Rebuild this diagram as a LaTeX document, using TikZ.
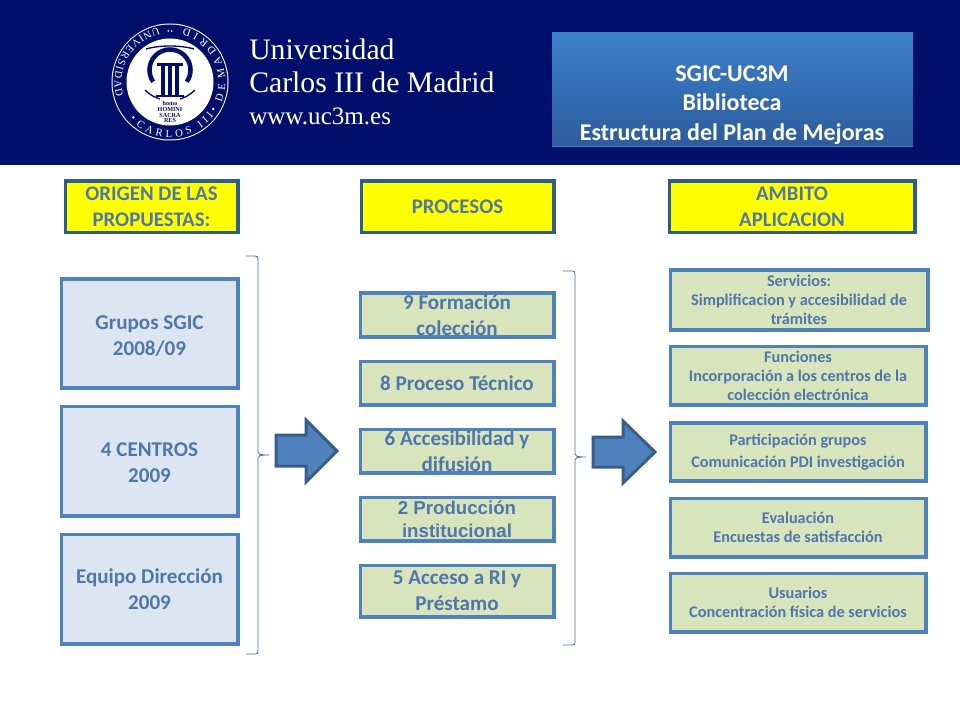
\documentclass[tikz,border=0pt]{standalone}
\usepackage{fontspec}
\setmainfont{Carlito}
\newfontfamily\logofont{Liberation Serif}
\newfontfamily\arialfont{Liberation Sans}
\usetikzlibrary{decorations.text}
\definecolor{navy}{HTML}{000F6B}
\definecolor{txtblue}{HTML}{4F77AB}
\definecolor{edgeblue}{HTML}{4F81BD}
\definecolor{darkedge}{HTML}{2F5C8F}
\definecolor{lightblue}{HTML}{DCE6F2}
\definecolor{lightgreen}{HTML}{D7E4BC}
\definecolor{arrowfill}{HTML}{4F81BD}
\definecolor{arrowedge}{HTML}{385D8A}
\definecolor{titletop}{HTML}{3D7FCB}
\definecolor{titlebot}{HTML}{2C5C9C}
\definecolor{headyellow}{HTML}{FFFF00}
\newcommand{\fs}[2]{\fontsize{#1}{#2}\selectfont}
\newcommand{\dn}{\rule{0pt}{13.5pt}}
\newcommand{\ringtext}[3]{\path[decorate,decoration={text along path,text align={fit to path},
    text={|\color{white}\logofont\fs{8}{9}|#3}}]
    (#1:55.5) arc[start angle=#1,end angle=#2,radius=55.5];}
\tikzset{
  box/.style={draw,rectangle,align=center,inner sep=0pt,font=\bfseries,text=txtblue,line width=2.8pt},
  ybox/.style={box,fill=headyellow,draw=darkedge,font=\bfseries\fs{15.6}{19.5}},
  lbox/.style={box,fill=lightblue,draw=edgeblue,font=\bfseries\fs{15.8}{19.5}},
  gbox/.style={box,fill=lightgreen,draw=edgeblue,font=\bfseries\fs{15.8}{19.5}},
  rbox/.style={box,fill=lightgreen,draw=edgeblue,font=\bfseries\fs{12.2}{14.2}},
  size/.style 2 args={minimum width=#1*.75pt-2.8pt,minimum height=#2*.75pt-2.8pt},
  brace/.style={draw=edgeblue!85!black,line width=.6pt},
  bigarrow/.style={fill=arrowfill,draw=arrowedge,line width=2.25pt,line join=miter}
}
\begin{document}
\begin{tikzpicture}[x=.75pt,y=-.75pt]
\useasboundingbox (0,0) rectangle (960,720);
\fill[white] (0,0) rectangle (960,720);
\fill[navy] (0,0) rectangle (960,165);
% logo
\begin{scope}[shift={(170,82)},x=.75pt,y=.75pt]
  \fill[white] (0,0) circle[radius=58.5];
  \fill[navy] (0,0) circle[radius=57.5];
  \fill[white] (0,0) circle[radius=43.5];
  \ringtext{232}{322}{CARLOS III}
  \ringtext{338}{358}{DE}
  \ringtext{5}{75}{MADRID}
  \ringtext{102}{196}{UNIVERSIDAD}
  \fill[white] (224:51) circle[radius=1.3];
  \fill[white] (328:51) circle[radius=1.3];
  \fill[white] (88:51) circle[radius=.9];
  \fill[white] (92:51) circle[radius=.9];
  \draw[navy,line width=3.4pt] (215:20.5)++(0,12) arc[start angle=215,end angle=-35,radius=20.5];
  \draw[navy,line width=1pt] (-24,33) .. controls (-10,37) and (10,37) .. (24,33);
  \draw[navy,line width=1pt] (-25,-8) .. controls (-20,-13) and (-16,-15) .. (-10,-17);
  \draw[navy,line width=1pt] (25,-8) .. controls (20,-13) and (16,-15) .. (10,-17);
  \fill[navy] (-13,18.5) rectangle (13,16);
  \foreach \cx in {-7,0,7} \fill[navy] (\cx-1.7,16) rectangle (\cx+1.7,-13);
  \fill[navy] (-14,-13) rectangle (14,-15);
  \node[text=navy,align=center,inner sep=0pt,font=\logofont\bfseries\fs{4.6}{4.4}] (motto) at (0,-30) {homo\\HOMINI\\SACRA\\RES};
\end{scope}
\node[anchor=base west,text=white,inner sep=0pt,font=\logofont\fs{22.3}{24}] (uni) at (249,60) {Universidad};
\node[anchor=base west,text=white,inner sep=0pt,font=\logofont\fs{22.3}{24}] (carlos) at (249,93) {Carlos III de Madrid};
\node[anchor=base west,text=white,inner sep=0pt,font=\logofont\fs{18.8}{19}] (web) at (249,125) {www.uc3m.es};
% title box
\shade[top color=titletop,bottom color=titlebot] (552,32.5) rectangle (913,146);
\draw[edgeblue,line width=.8pt] (552,146.5) -- (913,146.5);
\node[text=white,align=center,inner sep=0pt,font=\bfseries\fs{18}{22.2}] (title) at (732,105) {SGIC-UC3M\\Biblioteca\\Estructura del Plan de Mejoras};
% headers
\node[ybox,size={176}{55}] (h1) at (151.5,207) {ORIGEN DE LAS\\PROPUESTAS:};
\node[ybox,size={196}{55}] (h2) at (457.5,207) {PROCESOS};
\node[ybox,size={249}{55}] (h3) at (792,207) {AMBITO\\APLICACION};
% left
\node[lbox,size={180}{112}] (l1) at (149.5,333.5) {\dn Grupos SGIC\\2008/09};
\node[lbox,size={180}{113}] (l2) at (149.5,461) {\dn 4 CENTROS\\2009};
\node[lbox,size={180}{113}] (l3) at (149.5,589) {Equipo Dirección\\2009};
% middle
\node[gbox,size={197}{47}] (m1) at (457,315) {9 Formación\\colección};
\node[gbox,size={197}{47}] (m2) at (457,383) {8 Proceso Técnico};
\node[gbox,size={197}{47}] (m3) at (457,451) {6 Accesibilidad y\\difusión};
\node[gbox,size={197}{47},font=\arialfont\bfseries\fs{14}{17}] (m4) at (457,519) {2 Producción\\institucional};
\node[gbox,size={197}{55}] (m5) at (457,591) {5 Acceso a RI y\\Préstamo};
% right
\node[rbox,size={261}{63}] (r1) at (799,300) {Servicios:\\Simplificacion y accesibilidad de\\trámites};
\node[rbox,size={259}{62}] (r2) at (798,375.5) {Funciones\\Incorporación a los centros de la\\colección electrónica};
\node[rbox,size={259}{62},font=\bfseries\fs{12.2}{16}] (r3) at (798,452) {Participación grupos\\Comunicación PDI investigación};
\node[rbox,size={259}{62}] (r4) at (798,527.5) {Evaluación\\Encuestas de satisfacción};
\node[rbox,size={259}{62}] (r5) at (798,602.5) {Usuarios\\Concentración física de servicios};
% braces
\draw[brace] (246,256) -- (255,256) .. controls (257.5,256) and (258,257) .. (258,259) -- (258,452) .. controls (258,454) and (259,455) .. (269,455) .. controls (259,455) and (258,456) .. (258,458) -- (258,651) .. controls (258,653) and (257.5,654) .. (255,654) -- (246,654);
\draw[brace] (563,271) -- (572,271) .. controls (574.5,271) and (575,272) .. (575,274) -- (575,454) .. controls (575,456) and (576,457) .. (586,457) .. controls (576,457) and (575,458) .. (575,460) -- (575,642) .. controls (575,644) and (574.5,645) .. (572,645) -- (563,645);
% arrows
\path[bigarrow] (276,435) -- (306,435) -- (306,420) -- (337,451) -- (306,482) -- (306,466) -- (276,466) -- cycle;
\path[bigarrow] (593,437) -- (623,437) -- (623,421) -- (655,452) -- (623,483) -- (623,467) -- (593,467) -- cycle;
\end{tikzpicture}
\end{document}
